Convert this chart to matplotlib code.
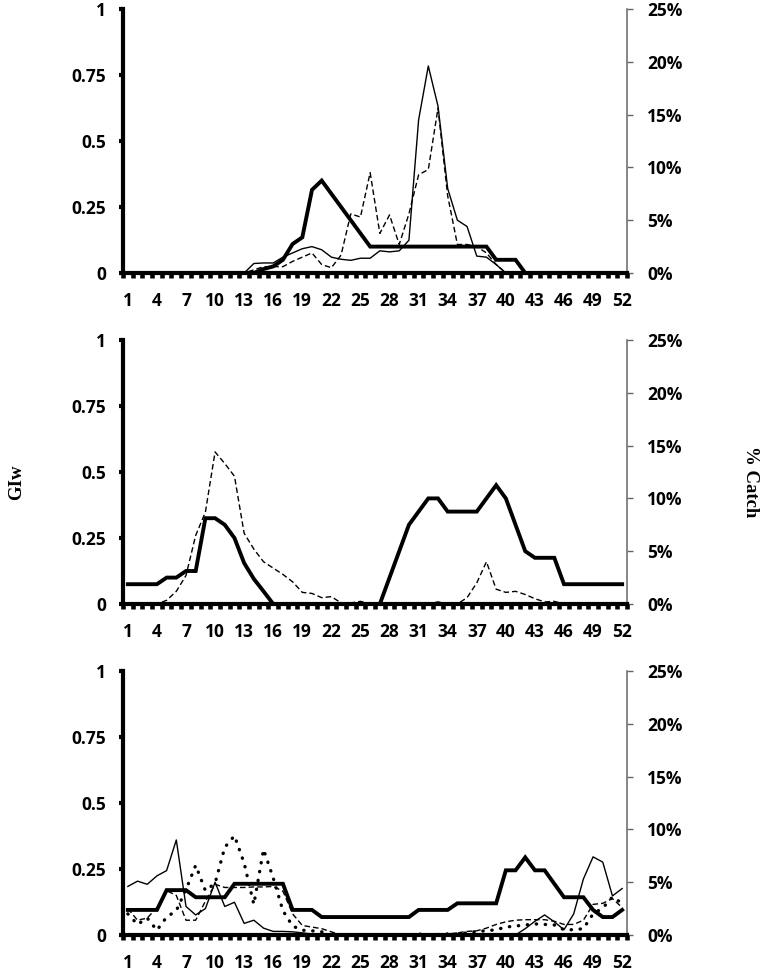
import numpy as np
import matplotlib
matplotlib.use("Agg")
from matplotlib import pyplot as plt

plt.rcParams['font.family'] = 'sans-serif'
plt.rcParams['font.sans-serif'] = ['Open Sans', 'DejaVu Sans']
plt.rcParams['font.weight'] = 'bold'

weeks = list(range(1, 53))
week_labels = [str(w) for w in range(1, 53, 3)]

# --- top panel ---
gi_top = [0] * 14 + [0.015, 0.025, 0.05, 0.11, 0.135, 0.315, 0.35,
                     0.30, 0.25, 0.20, 0.15] + [0.10] * 13 + [0.05] * 3 + [0] * 11
catch_top_solid = [0] * 13 + [0.9, 0.95, 0.95, 1.5, 1.9, 2.3, 2.5, 2.2, 1.5, 1.3,
                              1.2, 1.4, 1.4, 2.1, 2.0, 2.1, 3.1, 14.5, 19.6, 15.8,
                              8.0, 5.0, 4.4, 1.6, 1.5, 0.8] + [0] * 13
catch_top_dash = [0] * 13 + [0.3, 0.6, 0.6, 0.6, 1.1, 1.5, 1.9, 0.8, 0.5, 1.7,
                             5.6, 5.3, 9.5, 3.75, 5.5, 2.7, 5.6, 9.3, 9.8, 15.6,
                             7.3, 2.7, 2.7, 2.5, 1.9, 0.8] + [0] * 13

# --- middle panel ---
gi_mid = [0.075] * 4 + [0.10] * 2 + [0.125] * 2 + [0.325, 0.325, 0.30, 0.25, 0.155,
                                                   0.095, 0.048] + [0] * 12 + \
         [0.10, 0.20, 0.30, 0.35, 0.40, 0.40, 0.35, 0.35, 0.35, 0.35, 0.40, 0.45,
          0.40, 0.30, 0.20, 0.175, 0.175, 0.175] + [0.075] * 7
catch_mid_dash = [0] * 4 + [0.35, 1.2, 2.7, 6.5, 8.7, 14.4, 13.3, 12.1, 6.7, 5.2,
                            4.0, 3.4, 2.8, 2.1, 1.1, 1.0, 0.6, 0.7, 0.1, 0.1, 0.25,
                            0.05] + [0] * 6 + [0.2, 0, 0, 0.6, 2.0, 4.0, 1.4, 1.1,
                                               1.2, 0.9, 0.5, 0.2, 0.25] + [0] * 7

# --- bottom panel ---
gi_bot = [0.095] * 4 + [0.17] * 3 + [0.143] * 4 + [0.194] * 6 + [0.095] * 3 + \
         [0.068] * 10 + [0.095] * 4 + [0.12] * 5 + [0.245, 0.245, 0.294, 0.245,
                                                    0.245, 0.194, 0.143, 0.143,
                                                    0.143, 0.095, 0.068, 0.068, 0.095]
catch_bot_solid = [4.6, 5.1, 4.8, 5.6, 6.1, 9.0, 2.7, 1.9, 2.5, 5.0, 2.7, 3.1, 1.1,
                   1.4, 0.65, 0.34, 0.34, 0.3, 0.2, 0.1, 0.05] + [0] * 20 + \
                  [0.6, 1.3, 1.9, 1.25, 0.5, 2.0, 5.3, 7.4, 6.9, 3.7, 4.4]
catch_bot_dash = [2.5, 1.4, 1.6, 2.6, 4.2, 3.75, 1.4, 1.4, 3.2, 4.8, 4.5, 4.5, 4.5,
                  4.55, 4.55, 4.6, 4.15, 2.0, 0.9, 0.75, 0.6, 0.3] + [0] * 11 + \
                 [0.1, 0.2, 0.34, 0.4, 0.65, 1.0, 1.25, 1.4, 1.45, 1.45, 1.45, 1.3,
                  1.0, 1.0, 1.4, 2.9, 3.0, 3.45, 2.6]
catch_bot_dot = [2.0, 1.0, 1.6, 0.45, 1.7, 2.3, 4.3, 6.6, 4.2, 4.9, 8.3, 9.4, 6.8,
                 2.9, 8.1, 5.4, 2.3, 0.85, 0.45, 0.4, 0.3] + [0] * 9 + \
                [0.1, 0, 0.05, 0.1, 0.1, 0.2, 0.34, 0.4, 0.5, 0.75, 0.85, 0.95, 1.05,
                 1.0, 0.95, 0.5, 0.5, 0.6, 2.0, 2.55, 3.6, 3.0]

gi_ticks = [0, 0.25, 0.5, 0.75, 1]
gi_ticklabels = ['0', '0.25', '0.5', '0.75', '1']
catch_ticks = [0, 5, 10, 15, 20, 25]
catch_ticklabels = ['0%', '5%', '10%', '15%', '20%', '25%']

W, H = 760, 972
fig = plt.figure(figsize=(W / 100, H / 100), dpi=100)

left, right = 123, 627
tops = [9, 340, 671]
ph = 264
fs = 12.5

thin = dict(color='black', lw=1.0)
styles = {
    'solid': dict(ls='-'),
    'dash': dict(ls=(0, (4, 2.2))),
    'dot': dict(ls=(0, (0.1, 2.6)), lw=2.4, dash_capstyle='round'),
}


def draw_panel(top, gi, catches):
    ax = fig.add_axes([left / W, 1 - (top + ph) / H, (right - left) / W, ph / H])
    ax2 = ax.twinx()

    for vals, st in catches:
        kw = dict(thin)
        kw.update(styles[st])
        ax2.plot(weeks, vals, **kw)
    ax.plot(weeks, gi, color='black', lw=2.8, solid_joinstyle='miter')

    ax.set_xlim(0.5, 52.5)
    ax.set_ylim(0, 1)
    ax2.set_ylim(0, 25)

    ax.set_xticks(range(1, 53, 3))
    ax.set_xticklabels(week_labels, fontsize=fs, fontweight='bold')
    ax.set_xticks(np.arange(0.5, 53, 1), minor=True)
    ax.tick_params(axis='x', which='major', length=0, pad=14)
    ax.tick_params(axis='x', which='minor', length=3.5, width=3.3, direction='out')

    ax.set_yticks(gi_ticks)
    ax.set_yticklabels(gi_ticklabels, fontsize=fs, fontweight='bold')
    ax.tick_params(axis='y', length=3, width=3, direction='out', pad=9)

    ax2.set_yticks(catch_ticks)
    ax2.set_yticklabels(catch_ticklabels, fontsize=fs, fontweight='bold')
    ax2.tick_params(axis='y', length=4.5, width=1, color='#666666',
                    direction='out', pad=10)

    for s in ['top', 'right']:
        ax.spines[s].set_visible(False)
    for s in ['top', 'left', 'bottom']:
        ax2.spines[s].set_visible(False)
    ax.spines['left'].set_linewidth(3)
    ax.spines['bottom'].set_linewidth(3)
    ax2.spines['right'].set_color('#666666')
    ax2.spines['right'].set_linewidth(1.1)
    ax.set_zorder(2)
    ax.patch.set_visible(False)
    return ax


draw_panel(tops[0], gi_top, [(catch_top_solid, 'solid'), (catch_top_dash, 'dash')])
draw_panel(tops[1], gi_mid, [(catch_mid_dash, 'dash')])
draw_panel(tops[2], gi_bot, [(catch_bot_solid, 'solid'), (catch_bot_dash, 'dash'),
                             (catch_bot_dot, 'dot')])

fig.text(17 / W, 1 - 482 / H, 'GIw', rotation=90, ha='center', va='center',
         fontsize=13.5, fontweight='bold', family='Liberation Serif')
fig.text(750 / W, 1 - 482 / H, '% Catch', rotation=270, ha='center', va='center',
         fontsize=13.5, fontweight='bold', family='Liberation Serif')

fig.savefig('out.png', dpi=100)
